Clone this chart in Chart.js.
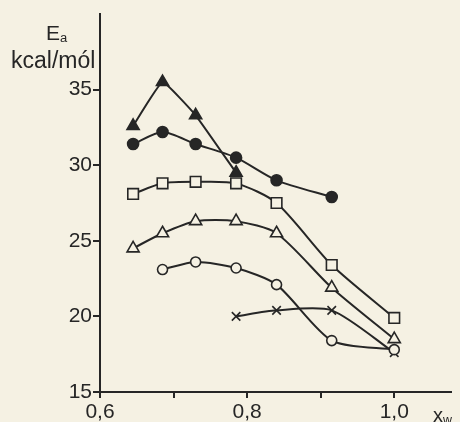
<!DOCTYPE html>
<html>
<head>
<meta charset="utf-8">
<script src="https://cdn.jsdelivr.net/npm/chart.js@4"></script>
<style>
  body { margin: 0; background: #f5f1e3; }
  #wrap { position: relative; width: 460px; height: 422px; }
  .lbl { position: absolute; font-family: "Liberation Sans", Arial, sans-serif; color: #262626; white-space: nowrap; line-height: 1; }
  .lbl sub { font-size: 0.62em; vertical-align: -0.15em; }
</style>
</head>
<body>
<div id="wrap">
  <canvas id="grafico"></canvas>
  <div class="lbl" style="left:46px; top:22px; font-size:21px;">E<sub>a</sub></div>
  <div class="lbl" style="left:11px; top:49px; font-size:23px;">kcal/mól</div>
  <div class="lbl" style="left:433px; top:405px; font-size:20px;">x<sub>w</sub></div>
</div>
<script>
// Datos
const xw = [0.645, 0.685, 0.73, 0.785, 0.84, 0.915, 1.0];

const trianguloLleno = [32.6, 35.5, 33.3, 29.5, null, null, null];
const circuloLleno   = [31.4, 32.2, 31.4, 30.5, 29.0, 27.9, null];
const cuadrado       = [28.1, 28.8, 28.9, 28.8, 27.5, 23.4, 19.9];
const trianguloVacio = [24.5, 25.5, 26.3, 26.3, 25.5, 21.9, 18.5];
const circuloVacio   = [null, 23.1, 23.6, 23.2, 22.1, 18.4, 17.8];
const cruz           = [null, null, null, 20.0, 20.4, 20.4, 17.6];

const xTicks = [0.6, 0.7, 0.8, 0.9, 1.0];
const xTickLabels = ['0,6', '', '0,8', '', '1,0'];
const yTicks = [15, 20, 25, 30, 35];

const tinta = '#262626';
const papel = '#f5f1e3';

function puntos(valores) {
  return xw.map((x, i) => ({ x: x, y: valores[i] }));
}

function serie(valores, estilo, relleno, radio, tension) {
  return {
    data: puntos(valores),
    borderColor: tinta,
    borderWidth: 2,
    tension: tension,
    pointStyle: estilo,
    pointRadius: radio,
    pointBackgroundColor: relleno ? tinta : papel,
    pointBorderColor: tinta,
    pointBorderWidth: 1.6
  };
}

new Chart(document.getElementById('grafico'), {
  type: 'line',
  data: {
    datasets: [
      serie(trianguloLleno, 'triangle', true, 7, 0.1),
      serie(circuloLleno, 'circle', true, 5.5, 0.25),
      serie(cuadrado, 'rect', false, 7.5, 0.25),
      serie(trianguloVacio, 'triangle', false, 7, 0.25),
      serie(circuloVacio, 'circle', false, 5, 0.25),
      serie(cruz, 'crossRot', false, 6, 0.25)
    ]
  },
  options: {
    responsive: true,
    maintainAspectRatio: false,
    animation: false,
    layout: { padding: { top: 14, left: 0, right: 0, bottom: 0 } },
    plugins: {
      legend: { display: false },
      tooltip: { enabled: false }
    },
    scales: {
      x: {
        type: 'linear',
        min: 0.6,
        max: 1.077,
        afterBuildTicks: function(axis) {
          axis.ticks = xTicks.map(v => ({ value: v }));
        },
        afterFit: function(axis) { axis.height = 30; },
        border: { display: true, color: tinta, width: 2 },
        grid: { drawOnChartArea: false, drawTicks: true, tickLength: 6, color: tinta, lineWidth: 2 },
        ticks: {
          padding: 2,
          color: tinta,
          font: { family: 'Liberation Sans', size: 21 },
          callback: function(value, index) { return xTickLabels[index]; }
        }
      },
      y: {
        type: 'linear',
        min: 15,
        max: 40,
        afterBuildTicks: function(axis) {
          axis.ticks = yTicks.map(v => ({ value: v }));
        },
        afterFit: function(axis) { axis.width = 100; },
        border: { display: true, color: tinta, width: 2 },
        grid: { drawOnChartArea: false, drawTicks: true, tickLength: 7, color: tinta, lineWidth: 2 },
        ticks: {
          padding: 1,
          color: tinta,
          font: { family: 'Liberation Sans', size: 21 }
        }
      }
    }
  }
});
</script>
</body>
</html>
